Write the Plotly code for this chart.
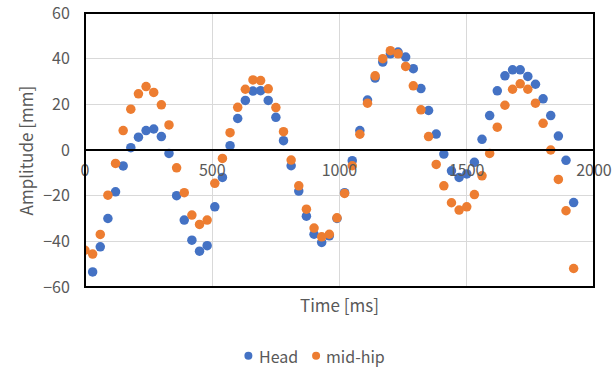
import plotly.graph_objects as go

time_ms = [0, 30, 60, 90, 120, 150, 180, 210, 240, 270, 300, 330, 360, 390, 420, 450,
           480, 510, 540, 570, 600, 630, 660, 690, 720, 750, 780, 810, 840, 870, 900, 930,
           960, 990, 1020, 1050, 1080, 1110, 1140, 1170, 1200, 1230, 1260, 1290, 1320, 1350,
           1380, 1410, 1440, 1470, 1500, 1530, 1560, 1590, 1620, 1650, 1680, 1710, 1740,
           1770, 1800, 1830, 1860, 1890, 1920]

head = [None, -53.4, -42.4, -30.0, -18.3, -7.0, 1.0, 5.6, 8.5, 9.2, 5.9, -1.5, -20.0,
        -30.7, -39.5, -44.3, -41.9, -24.9, -12.0, 1.9, 13.8, 21.7, 25.8, 26.0, 21.7, 14.3,
        4.1, -6.9, -18.0, -29.0, -36.9, -40.5, -37.6, -30.0, -18.7, -4.7, 8.5, 21.9, 31.5,
        38.5, 42.1, 42.9, 40.7, 35.6, 26.9, 17.3, 7.0, -1.8, -9.1, -12.0, -10.5, -5.4, 4.7,
        15.1, 25.9, 32.5, 35.1, 35.1, 32.2, 28.8, 22.4, 15.1, 6.1, -4.5, -23.0]

mid_hip = [-43.9, -45.6, -37.0, -19.8, -5.9, 8.5, 17.9, 24.6, 27.8, 25.2, 19.8, 11.0,
           -7.8, -18.7, -28.5, -32.6, -30.7, -14.6, -3.7, 7.6, 18.7, 26.6, 30.7, 30.4, 26.8,
           18.6, 8.0, -4.4, -15.7, -25.9, -34.2, -38.0, -36.9, -29.7, -19.0, -6.9, 6.9, 20.5,
           32.5, 40.0, 43.5, 42.1, 36.6, 28.1, 17.6, 5.9, -6.3, -15.7, -23.1, -26.3, -24.9,
           -19.5, -11.3, -1.5, 10.0, 19.6, 26.6, 29.0, 26.6, 20.5, 11.7, 0.0, -12.9, -26.6,
           -51.9]

series_names = ["Head", "mid-hip"]
series_colors = ["#4472C4", "#ED7D31"]

x_ticks = [0, 500, 1000, 1500, 2000]
y_ticks = [-60, -40, -20, 0, 20, 40, 60]

FONT = "Noto Sans CJK JP"
GRAY = "#595959"

fig = go.Figure()
for name, ys, col in zip(series_names, [head, mid_hip], series_colors):
    fig.add_trace(go.Scatter(x=time_ms, y=ys, mode="markers", name=name,
                             marker=dict(color=col, size=9.5), showlegend=False))

# custom compact legend (Excel style): dot + label
legend_dot_x = [0.321, 0.454]
legend_txt_x = [0.337, 0.469]
legend_y = -0.251
shapes = [dict(type="rect", xref="paper", yref="paper", x0=0, x1=1, y0=0, y1=1,
               line=dict(color="black", width=2), fillcolor="rgba(0,0,0,0)", layer="above")]
annotations = [
    dict(text="Time [ms]", xref="paper", yref="paper", x=0.5, y=-0.063,
         xanchor="center", yanchor="middle", showarrow=False,
         font=dict(size=17, color=GRAY)),
    dict(text="Amplitude [mm]", xref="paper", yref="paper", x=-0.117, y=0.5,
         xanchor="center", yanchor="middle", textangle=-90, showarrow=False,
         font=dict(size=17, color=GRAY)),
]
for name, col, dx, tx in zip(series_names, series_colors, legend_dot_x, legend_txt_x):
    shapes.append(dict(type="circle", xref="paper", yref="paper", xsizemode="pixel",
                       ysizemode="pixel", xanchor=dx, yanchor=legend_y,
                       x0=-4, x1=4, y0=-4, y1=4, fillcolor=col, line=dict(width=0)))
    annotations.append(dict(text=name, xref="paper", yref="paper", x=tx, y=legend_y,
                            xanchor="left", yanchor="middle", showarrow=False,
                            font=dict(size=16, color=GRAY)))

fig.update_layout(
    width=615, height=371,
    margin=dict(l=85, r=21, t=13, b=84, autoexpand=False),
    paper_bgcolor="white", plot_bgcolor="white",
    font=dict(family=FONT, size=16, color=GRAY),
    showlegend=False,
    xaxis=dict(range=[0, 2000], tickvals=x_ticks, showgrid=True, gridcolor="#d9d9d9",
               gridwidth=1, zeroline=False, showline=True, linecolor="black", linewidth=2,
               anchor="free", position=0.5, ticks="outside", ticklen=6,
               tickcolor="rgba(0,0,0,0)", tickfont=dict(size=16, color=GRAY),
               ticklabeloverflow="allow", automargin=False),
    yaxis=dict(range=[-60, 60], tickvals=y_ticks, showgrid=True, gridcolor="#d9d9d9",
               gridwidth=1, zeroline=False, showline=False, ticks="outside", ticklen=11,
               tickcolor="rgba(0,0,0,0)", tickfont=dict(size=16, color=GRAY),
               ticklabeloverflow="allow", automargin=False),
    shapes=shapes,
    annotations=annotations,
)

fig.write_html("out.html")
